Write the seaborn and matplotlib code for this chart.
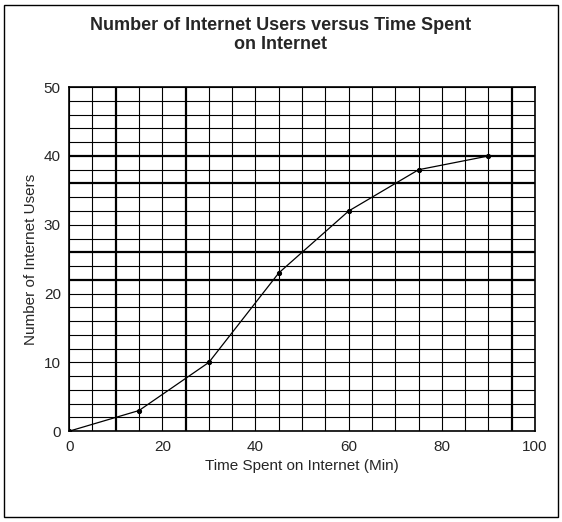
import matplotlib
matplotlib.use("Agg")
import matplotlib.pyplot as plt
import seaborn as sns
import pandas as pd
from matplotlib.patches import Rectangle

time_min = [0, 15, 30, 45, 60, 75, 90]
users = [0, 3, 10, 23, 32, 38, 40]
x_ticks = [0, 20, 40, 60, 80, 100]
y_ticks = [0, 10, 20, 30, 40, 50]

sns.set_theme(style="white")
plt.rcParams['font.family'] = ['Liberation Sans', 'DejaVu Sans']

fig = plt.figure(figsize=(5.62, 5.22), dpi=100)
ax = fig.add_axes([0.123, 0.174, 0.829, 0.659])
df = pd.DataFrame({"t": time_min, "u": users})

for v in range(0, 101, 5):
    lw = 1.6 if v in (10, 25, 95) else 0.8
    ax.axvline(v, color="black", lw=lw, zorder=1)
for h in range(0, 51, 2):
    lw = 1.6 if h in (22, 26, 36, 40) else 0.8
    ax.axhline(h, color="black", lw=lw, zorder=1)

sns.lineplot(data=df, x="t", y="u", ax=ax, color="black", lw=0.9,
             marker="o", markersize=3, markeredgecolor="black", zorder=3)
ax.set_xlim(0, 100)
ax.set_ylim(0, 50)
ax.set_xticks(x_ticks)
ax.set_yticks(y_ticks)
ax.tick_params(labelsize=11, length=0, pad=6)
for s in ax.spines.values():
    s.set_color("black"); s.set_linewidth(1.2)
ax.set_xlabel("Time Spent on Internet (Min)", fontsize=11)
ax.set_ylabel("Number of Internet Users", fontsize=11, labelpad=4)
fig.suptitle("Number of Internet Users versus Time Spent\non Internet",
             fontsize=13, fontweight="bold", y=0.968)
fig.patches.append(Rectangle((0.008, 0.01), 0.984, 0.98, transform=fig.transFigure,
                             fill=False, edgecolor="black", lw=1))
fig.savefig("out.png", dpi=100)
